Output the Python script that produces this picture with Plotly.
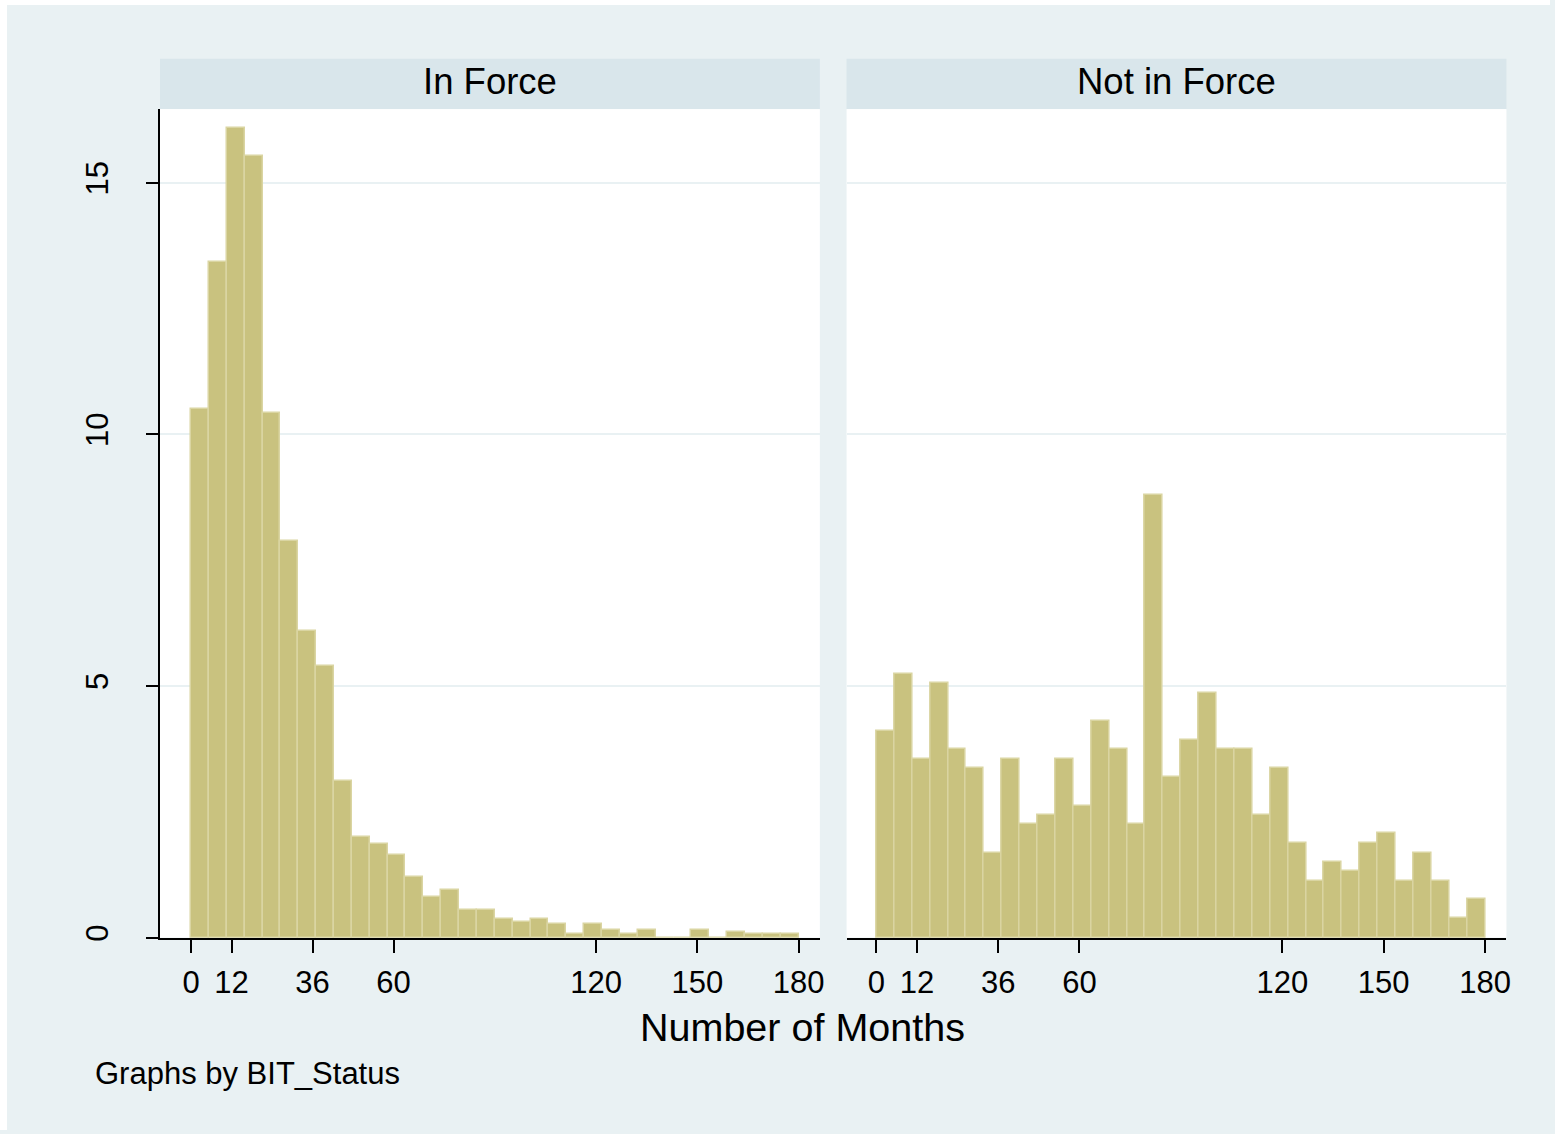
import plotly.graph_objects as go

# ---------------- data (percent of treaties per bin) ----------------
panel_titles = ["In Force", "Not in Force"]
n_bins = 34
bin_start = 0.0
bin_end = 180.0

in_force = [10.51, 13.43, 16.08, 15.53, 10.43, 7.89, 6.09, 5.39, 3.11, 1.99,
            1.85, 1.64, 1.21, 0.81, 0.94, 0.55, 0.55, 0.36, 0.31, 0.36,
            0.27, 0.07, 0.27, 0.16, 0.07, 0.16, 0.0, 0.0, 0.16, 0.0,
            0.12, 0.07, 0.07, 0.07]

not_in_force = [4.11, 5.23, 3.55, 5.05, 3.74, 3.37, 1.69, 3.55, 2.25, 2.44,
                3.55, 2.62, 4.30, 3.74, 2.25, 8.79, 3.19, 3.93, 4.86, 3.74,
                3.74, 2.44, 3.37, 1.88, 1.13, 1.50, 1.32, 1.88, 2.07, 1.13,
                1.69, 1.13, 0.38, 0.76]

x_tickvals = [0, 12, 36, 60, 120, 150, 180]
y_tickvals = [0, 5, 10, 15]
x_title = "Number of Months"
caption = "Graphs by BIT_Status"

# ---------------- styling / geometry ----------------
BG = "#E9F1F3"
STRIP = "#D9E6EB"
BAR = "#C9C27F"
EDGE = "#DAD5A2"
GRID = "#E9F1F3"
FONT = "Liberation Sans, Arial, sans-serif"

W, H = 1555, 1134


def px(xp):
    return xp / W


def py(yp):
    return 1 - yp / H


bw = (bin_end - bin_start) / n_bins
centers = [bin_start + bw * (i + 0.5) for i in range(n_bins)]

PLOT_TOP, PLOT_BOT = 109.5, 941.0
LEFT = (160.5, 822.5)
RIGHT = (849.3, 1511.3)
STRIP_TOP = 59.0

fig = go.Figure()
for vals, xa, ya in [(in_force, "x", "y"), (not_in_force, "x2", "y2")]:
    fig.add_trace(go.Bar(
        x=centers, y=vals, width=bw, xaxis=xa, yaxis=ya,
        marker=dict(color=BAR, line=dict(color=EDGE, width=1.5)),
        hoverinfo="x+y", showlegend=False,
    ))

axis_common = dict(
    tickmode="array", tickvals=x_tickvals,
    ticktext=[str(v) for v in x_tickvals],
    ticks="outside", ticklen=13, tickwidth=2, tickcolor="black",
    showline=True, linecolor="black", linewidth=2,
    showgrid=False, zeroline=False,
    tickfont=dict(family=FONT, size=31, color="black"),
    ticklabelstandoff=3,
)

y_range = [0, (PLOT_BOT - PLOT_TOP) / 50.5]

fig.update_layout(
    width=W, height=H, autosize=False,
    margin=dict(l=0, r=0, t=0, b=0),
    paper_bgcolor=BG, plot_bgcolor="white",
    bargap=0, showlegend=False,
    font=dict(family=FONT, color="black"),
    xaxis=dict(domain=[px(LEFT[0]), px(LEFT[1])], range=[-9.2, 186.3],
               anchor="y", **axis_common),
    xaxis2=dict(domain=[px(RIGHT[0]), px(RIGHT[1])], range=[-8.85, 186.3],
                anchor="y2", **axis_common),
    yaxis=dict(domain=[py(PLOT_BOT), py(PLOT_TOP)], range=y_range,
               anchor="x", tickmode="array", tickvals=y_tickvals,
               ticktext=[str(v) for v in y_tickvals],
               ticks="outside", ticklen=12, tickwidth=2, tickcolor="black",
               showline=True, linecolor="black", linewidth=2,
               showgrid=True, gridcolor=GRID, gridwidth=2, zeroline=False,
               tickangle=-90,
               tickfont=dict(family=FONT, size=31, color="black"),
               ticklabelstandoff=26),
    yaxis2=dict(domain=[py(PLOT_BOT), py(PLOT_TOP)], range=y_range,
                anchor="x2", matches="y", tickmode="array", tickvals=y_tickvals,
                showticklabels=False, ticks="", showline=False,
                showgrid=True, gridcolor=GRID, gridwidth=2, zeroline=False),
)

shapes = [
    # thin white page border at the top and left, as in the reference
    dict(type="rect", xref="paper", yref="paper", x0=0, x1=px(7), y0=0, y1=1,
         fillcolor="white", line=dict(width=0), layer="below"),
    dict(type="rect", xref="paper", yref="paper", x0=0, x1=1, y0=py(5), y1=1,
         fillcolor="white", line=dict(width=0), layer="below"),
]
annotations = []
for (x0, x1), title in zip([LEFT, RIGHT], panel_titles):
    shapes.append(dict(type="rect", xref="paper", yref="paper",
                       x0=px(x0), x1=px(x1), y0=py(PLOT_TOP), y1=py(STRIP_TOP),
                       fillcolor=STRIP, line=dict(width=0), layer="below"))
    annotations.append(dict(xref="paper", yref="paper",
                            x=px((x0 + x1) / 2), y=py(82),
                            text=title, showarrow=False,
                            xanchor="center", yanchor="middle",
                            font=dict(family=FONT, size=36.5, color="black")))

annotations.append(dict(xref="paper", yref="paper", x=px(805), y=py(1031),
                        text=x_title, showarrow=False,
                        xanchor="center", yanchor="middle",
                        font=dict(family=FONT, size=39.5, color="black")))
annotations.append(dict(xref="paper", yref="paper", x=px(93), y=py(1077),
                        text=caption, showarrow=False,
                        xanchor="left", yanchor="middle",
                        font=dict(family=FONT, size=31, color="black")))

fig.update_layout(shapes=shapes, annotations=annotations)

fig.write_html("out.html", config={"displayModeBar": False},
               post_script="document.body.style.margin='0';"
                           "document.documentElement.style.overflow='hidden';")
